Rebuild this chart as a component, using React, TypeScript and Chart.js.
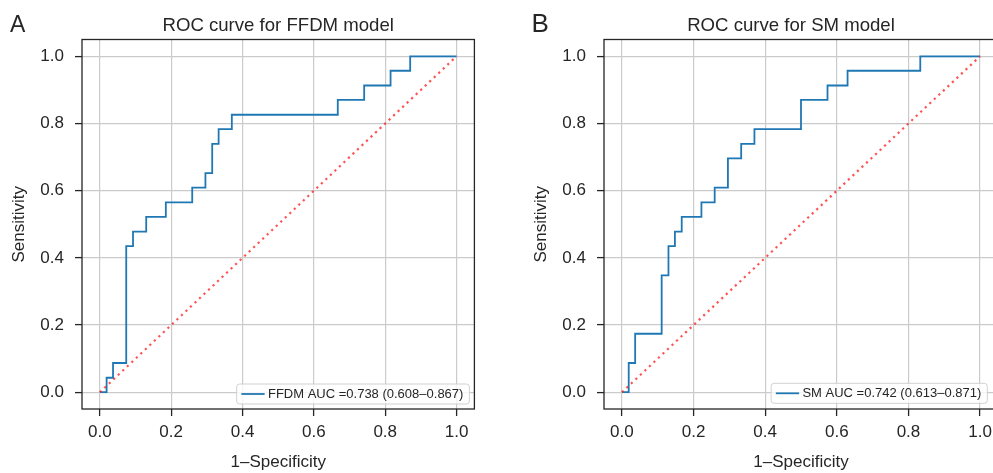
import React, { useEffect, useRef } from "react";
import { Chart, registerables } from "chart.js";

Chart.register(...registerables);

// ---- data ----
const tickValues = [0, 0.2, 0.4, 0.6, 0.8, 1.0];
const diagX = [0, 1];
const diagY = [0, 1];

// step corners: horizontal to fpr[i], then vertical to tpr[i]
const ffdmFpr = [0, 0.019, 0.037, 0.074, 0.093, 0.13, 0.185, 0.259, 0.296, 0.315, 0.333, 0.37, 0.667, 0.741, 0.815, 0.87, 1.0];
const ffdmTpr = [0, 0.043, 0.087, 0.435, 0.478, 0.522, 0.565, 0.609, 0.652, 0.739, 0.783, 0.826, 0.87, 0.913, 0.957, 1.0, 1.0];

const smFpr = [0, 0.019, 0.037, 0.111, 0.13, 0.148, 0.167, 0.222, 0.259, 0.296, 0.333, 0.37, 0.5, 0.574, 0.63, 0.833, 1.0];
const smTpr = [0, 0.087, 0.174, 0.348, 0.435, 0.478, 0.522, 0.565, 0.609, 0.696, 0.739, 0.783, 0.87, 0.913, 0.957, 1.0, 1.0];

const ffdmLabel = "FFDM AUC =0.738 (0.608–0.867)";
const smLabel = "SM AUC =0.742 (0.613–0.871)";
const panelTitles = ["ROC curve for FFDM model", "ROC curve for SM model"];
const panelLetters = ["A", "B"];
const xTitle = "1–Specificity";
const yTitle = "Sensitivity";

const FONT = "'Liberation Sans', Arial, Helvetica, sans-serif";
const INK = "#262626";
const BLUE = "#1f77b4";

const decorPlugin = {
  id: "decor",
  afterDraw(chart: any, _args: any, opts: any) {
    const { ctx, chartArea: a } = chart;
    ctx.save();
    // frame
    ctx.strokeStyle = INK;
    ctx.lineWidth = 1.3;
    ctx.strokeRect(a.left, a.top, a.right - a.left, a.bottom - a.top);
    // title
    ctx.fillStyle = INK;
    ctx.font = `18.6px ${FONT}`;
    ctx.textAlign = "center";
    ctx.textBaseline = "alphabetic";
    ctx.fillText(opts.title, (a.left + a.right) / 2 + opts.titleShift, opts.titleBaseline);
    // panel letter
    ctx.font = `${opts.letterSize}px ${FONT}`;
    ctx.textAlign = "left";
    ctx.fillText(opts.letter, opts.letterX, opts.letterBaseline);
    // legend
    const ds = chart.data.datasets[opts.legendIndex];
    ctx.font = `13px ${FONT}`;
    const tw = ctx.measureText(ds.label).width;
    const h = 20, padL = 4.7, sample = 23.3, gap = 3.3, padR = 6;
    const w = padL + sample + gap + tw + padR;
    const right = a.right - opts.legendRight;
    const bottom = a.bottom - opts.legendBottom;
    const left = right - w, top = bottom - h;
    ctx.beginPath();
    ctx.roundRect(left, top, w, h, 3);
    ctx.fillStyle = "rgba(255,255,255,0.8)";
    ctx.fill();
    ctx.strokeStyle = "rgba(204,204,204,0.9)";
    ctx.lineWidth = 1;
    ctx.stroke();
    const cy = top + h / 2;
    ctx.beginPath();
    ctx.moveTo(left + padL, cy);
    ctx.lineTo(left + padL + sample, cy);
    ctx.strokeStyle = ds.borderColor;
    ctx.lineWidth = ds.borderWidth;
    ctx.stroke();
    ctx.fillStyle = INK;
    ctx.textBaseline = "middle";
    ctx.fillText(ds.label, left + padL + sample + gap, cy + 0.5);
    ctx.restore();
  },
};

type PanelCfg = {
  fpr: number[];
  tpr: number[];
  label: string;
  title: string;
  letter: string;
  padLeft: number;
  padRight: number;
  titleShift: number;
  letterX: number;
  letterBaseline: number;
  letterSize: number;
  legendRight: number;
  legendBottom: number;
};

function Panel({ left, width, cfg }: { left: number; width: number; cfg: PanelCfg }) {
  const ref = useRef<HTMLCanvasElement>(null);
  useEffect(() => {
    const tickFont = { family: FONT, size: 17 };
    const chart = new Chart(ref.current as HTMLCanvasElement, {
      type: "line",
      data: {
        datasets: [
          {
            label: "chance",
            data: diagX.map((x, i) => ({ x, y: diagY[i] })),
            borderColor: "rgba(255,35,35,0.78)",
            borderWidth: 2.2,
            borderDash: [2.2, 4],
            pointRadius: 0,
            fill: false,
          },
          {
            label: cfg.label,
            data: cfg.fpr.map((x, i) => ({ x, y: cfg.tpr[i] })),
            borderColor: BLUE,
            borderWidth: 1.8,
            stepped: "before",
            pointRadius: 0,
            fill: false,
          },
        ],
      },
      options: {
        animation: false,
        responsive: false,
        devicePixelRatio: 1,
        layout: { padding: { left: cfg.padLeft, right: cfg.padRight, top: 39.5, bottom: 0 } },
        plugins: {
          legend: { display: false },
          tooltip: { enabled: false },
          decor: {
            title: cfg.title,
            titleShift: cfg.titleShift,
            titleBaseline: 30.5,
            letter: cfg.letter,
            letterX: cfg.letterX,
            letterBaseline: cfg.letterBaseline,
            letterSize: cfg.letterSize,
            legendIndex: 1,
            legendRight: cfg.legendRight,
            legendBottom: cfg.legendBottom,
          },
        } as any,
        scales: {
          x: {
            type: "linear",
            min: -0.05,
            max: 1.05,
            afterBuildTicks: (s: any) => {
              s.ticks = tickValues.map((v) => ({ value: v }));
            },
            afterFit: (s: any) => {
              s.height = 64;
            },
            grid: { color: "#cbcbcb", lineWidth: 1.2, tickColor: INK, tickLength: 7, tickWidth: 1.3 },
            border: { display: false },
            ticks: {
              font: tickFont,
              color: INK,
              padding: 6,
              maxRotation: 0,
              callback: (v: any) => Number(v).toFixed(1),
            },
            title: { display: true, text: xTitle, font: tickFont, color: INK, padding: { top: 0, bottom: 0 } },
          },
          y: {
            type: "linear",
            min: -0.05,
            max: 1.05,
            afterBuildTicks: (s: any) => {
              s.ticks = tickValues.map((v) => ({ value: v }));
            },
            afterFit: (s: any) => {
              s.width = 82;
            },
            grid: { color: "#cbcbcb", lineWidth: 1.2, tickColor: INK, tickLength: 7, tickWidth: 1.3 },
            border: { display: false },
            ticks: {
              font: tickFont,
              color: INK,
              padding: 11,
              callback: (v: any) => Number(v).toFixed(1),
            },
            title: { display: true, text: yTitle, font: tickFont, color: INK, padding: { top: 9, bottom: 0 } },
          },
        },
      },
      plugins: [decorPlugin as any],
    });
    return () => chart.destroy();
  }, []);
  return (
    <canvas
      ref={ref}
      width={width}
      height={473}
      style={{ position: "absolute", left, top: 0, width, height: 473 }}
    />
  );
}

export default function App() {
  const cfgA: PanelCfg = {
    fpr: ffdmFpr,
    tpr: ffdmTpr,
    label: ffdmLabel,
    title: panelTitles[0],
    letter: panelLetters[0],
    padLeft: 0,
    padRight: 22.6,
    titleShift: 0,
    letterX: 10,
    letterBaseline: 31.5,
    letterSize: 23,
    legendRight: 5,
    legendBottom: 5,
  };
  const cfgB: PanelCfg = {
    fpr: smFpr,
    tpr: smTpr,
    label: smLabel,
    title: panelTitles[1],
    letter: panelLetters[1],
    padLeft: 25,
    padRight: 99,
    titleShift: -10,
    letterX: 34.5,
    letterBaseline: 32.3,
    letterSize: 26,
    legendRight: 10.7,
    legendBottom: 5.7,
  };
  return (
    <div
      style={{
        position: "absolute",
        left: 0,
        top: 0,
        width: 993,
        height: 473,
        overflow: "hidden",
        background: "#fff",
      }}
    >
      <Panel left={0} width={497} cfg={cfgA} />
      <Panel left={497} width={600} cfg={cfgB} />
    </div>
  );
}
